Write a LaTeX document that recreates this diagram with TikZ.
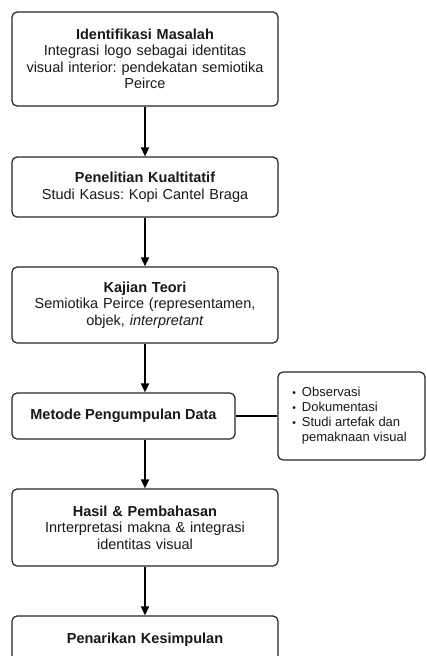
\documentclass[tikz,border=0pt]{standalone}
\usepackage{fontspec}
\setmainfont{Liberation Sans}
\usetikzlibrary{arrows.meta}
\begin{document}
\frenchspacing
\begin{tikzpicture}[x=1pt,y=-1pt,
  box/.style={draw=black!85, line width=1.2pt, rounded corners=5pt, align=center,
    inner sep=0pt, font=\fontsize{14.5}{16.5}\selectfont\frenchspacing, text=black!90},
  mainbox/.style={box, minimum width=266pt, text width=255pt},
  arr/.style={draw=black, line width=1.7pt, -{Triangle[length=9pt,width=8pt]}},
  link/.style={draw=black, line width=1.5pt}]
\useasboundingbox (0,0) rectangle (426,656);
\clip (0,0) rectangle (426,656);
\fill[white] (0,0) rectangle (426,656);

\node[mainbox, minimum height=94pt] (b1) at (145,59)
  {\textbf{Identifikasi Masalah}\\Integrasi logo sebagai identitas\\visual interior: pendekatan semiotika\\Peirce};
\node[mainbox, minimum height=60pt] (b2) at (145,187)
  {\textbf{Penelitian Kualtitatif}\\Studi Kasus: Kopi Cantel Braga};
\node[mainbox, minimum height=76pt] (b3) at (145,305)
  {\textbf{Kajian Teori}\\Semiotika Peirce (representamen,\\objek, \textit{interpretant}};
\node[box, minimum width=223pt, minimum height=46pt] (b4) at (123.5,416)
  {\textbf{Metode Pengumpulan Data}};
\node[box, minimum width=147pt, minimum height=88pt, align=left,
  font=\fontsize{13}{15}\selectfont\frenchspacing] (side) at (351.5,416)
  {\begin{tabular}{@{}l@{\hspace{6pt}}l@{}}
   \scalebox{0.8}{\textbullet} & Observasi\\
   \scalebox{0.8}{\textbullet} & Dokumentasi\\
   \scalebox{0.8}{\textbullet} & Studi artefak dan\\
   & pemaknaan visual
   \end{tabular}\hspace{4pt}};
\node[mainbox, minimum height=77pt] (b5) at (145,527.5)
  {\textbf{Hasil \& Pembahasan}\\Inrterpretasi makna \& integrasi\\identitas visual};
\node[mainbox, minimum height=60pt] (b6) at (145,646)
  {\textbf{Penarikan Kesimpulan}\\\mbox{}};

\draw[arr] (b1.south) -- (b2.north);
\draw[arr] (b2.south) -- (b3.north);
\draw[arr] (b3.south) -- (b3.south |- b4.north);
\draw[arr] (b4.south -| b5.north) -- (b5.north);
\draw[arr] (b5.south) -- (b6.north);
\draw[link] (b4.east) -- (side.west);
\end{tikzpicture}
\end{document}
